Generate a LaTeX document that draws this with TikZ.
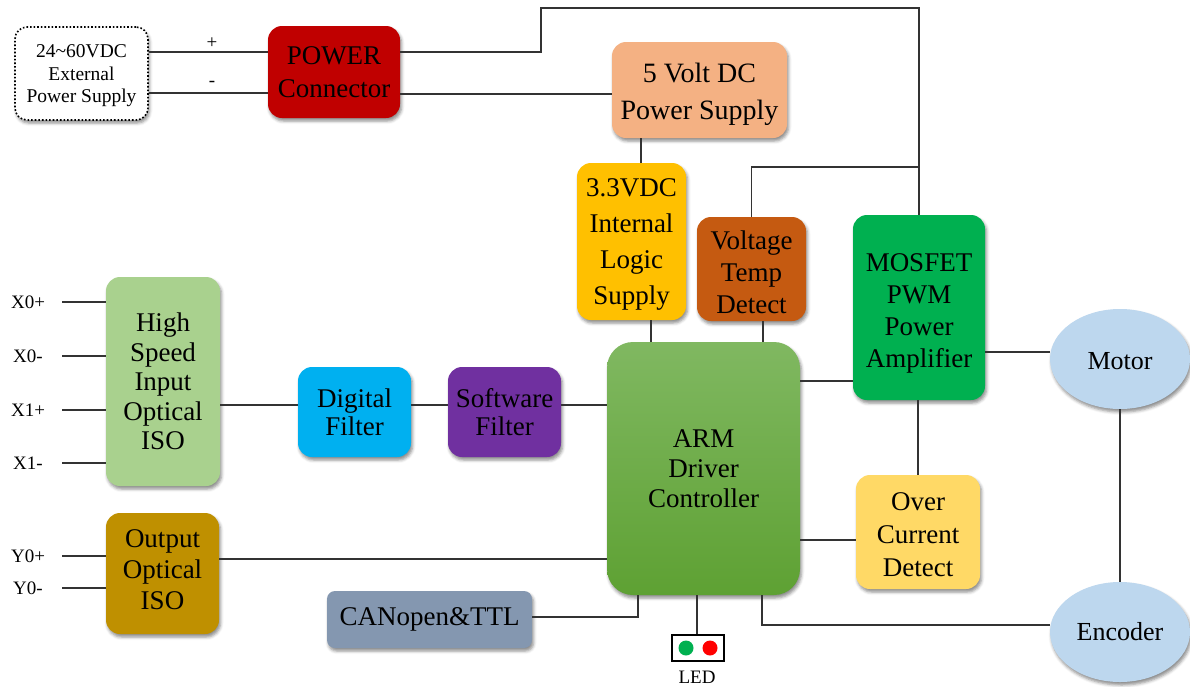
\documentclass[tikz,border=0pt]{standalone}
\usepackage{fontspec}
\setmainfont{Liberation Serif}
\usetikzlibrary{shapes.geometric,shadows.blur}
\definecolor{cPow}{HTML}{C00000}
\definecolor{cFive}{HTML}{F4B183}
\definecolor{cLogic}{HTML}{FFC000}
\definecolor{cVT}{HTML}{C55A11}
\definecolor{cMos}{HTML}{00B050}
\definecolor{cMotor}{HTML}{BDD7EE}
\definecolor{cHS}{HTML}{A9D18E}
\definecolor{cDF}{HTML}{00B0F0}
\definecolor{cSF}{HTML}{7030A0}
\definecolor{cArmTop}{HTML}{80B861}
\definecolor{cArmBot}{HTML}{5EA133}
\definecolor{cOC}{HTML}{FFD966}
\definecolor{cOut}{HTML}{BF9000}
\definecolor{cCan}{HTML}{8497B0}
\definecolor{cLine}{HTML}{333333}
\newcommand{\topstrut}[1]{\rule{0pt}{#1}}
\newcommand{\botstrut}[1]{\rule[-#1]{0pt}{#1}}
\tikzset{
  box/.style={rectangle, rounded corners=14pt, align=center, inner sep=1pt,
    font=\fontsize{27}{31}\selectfont,
    blur shadow={shadow xshift=1.5pt, shadow yshift=-3pt, shadow blur radius=3pt, shadow opacity=45}},
  oval/.style={ellipse, inner sep=0pt, align=center, fill=cMotor,
    font=\fontsize{26}{30}\selectfont,
    blur shadow={shadow xshift=1.5pt, shadow yshift=-3pt, shadow blur radius=3pt, shadow opacity=45}},
  pin/.style={font=\fontsize{19}{22}\selectfont, inner sep=0pt},
  wire/.style={draw=cLine, line width=1.3pt}
}
\begin{document}
\begin{tikzpicture}[x=1pt,y=-1pt]
\useasboundingbox (0,0) rectangle (1190,686);
% nodes
\node[box, draw=black, dotted, line width=1.6pt, fill=white, rounded corners=12pt,
  minimum width=133pt, minimum height=93pt, font=\fontsize{19.5}{22.5}\selectfont]
  (ext) at (81.5,73.5) {\topstrut{17.2pt}24\textasciitilde60VDC\\External\\Power Supply};
\node[box, fill=cPow, minimum width=132pt, minimum height=92pt, font=\fontsize{27}{33}\selectfont] (pow) at (334,72) {POWER\\Connector};
\node[box, fill=cFive, minimum width=175pt, minimum height=96pt, font=\fontsize{28}{37}\selectfont] (five) at (699.5,90) {\topstrut{29pt}5 Volt DC\\Power Supply};
\node[box, fill=cLogic, minimum width=109pt, minimum height=157pt, font=\fontsize{27}{36}\selectfont] (logic) at (631.5,241.5) {\topstrut{24.5pt}3.3VDC\\Internal\\Logic\\Supply};
\node[box, fill=cVT, minimum width=109pt, minimum height=104pt, font=\fontsize{27}{32}\selectfont] (vt) at (751.5,269) {\topstrut{24.5pt}Voltage\\Temp\\Detect};
\node[box, fill=cMos, minimum width=132pt, minimum height=185pt, font=\fontsize{27}{32}\selectfont] (mos) at (919,307.5) {\topstrut{30.5pt}MOSFET\\PWM\\Power\\Amplifier};
\node[oval, minimum width=140pt, minimum height=100pt] (motor) at (1120,359) {\topstrut{21pt}Motor};
\node[oval, minimum width=140pt, minimum height=100pt] (enc) at (1120,632) {Encoder};
\node[box, fill=cHS, minimum width=114pt, minimum height=209pt, font=\fontsize{27}{29.5}\selectfont] (hs) at (163,381.5) {High\\Speed\\Input\\Optical\\ISO};
\node[box, fill=cDF, minimum width=113pt, minimum height=90pt, font=\fontsize{27}{28}\selectfont] (df) at (354.5,412) {Digital\\Filter};
\node[box, fill=cSF, minimum width=113pt, minimum height=90pt, font=\fontsize{27}{28}\selectfont] (sf) at (504.5,412) {Software\\Filter};
\node[box, top color=cArmTop, bottom color=cArmBot, rounded corners=26pt, minimum width=193pt, minimum height=253pt, font=\fontsize{27}{30}\selectfont] (arm) at (703.5,468.5) {ARM\\Driver\\Controller};
\node[box, fill=cOC, minimum width=124pt, minimum height=114pt, font=\fontsize{27}{33}\selectfont] (oc) at (918,532) {\topstrut{22.5pt}Over\\Current\\Detect};
\node[box, fill=cOut, minimum width=113pt, minimum height=121pt, font=\fontsize{27}{31}\selectfont] (out) at (162.5,573.5) {Output\\Optical\\ISO\botstrut{8pt}};
\node[box, fill=cCan, rounded corners=8pt, minimum width=205pt, minimum height=57pt] (can) at (429.5,619.5) {CANopen\&TTL};
\node[draw=black, line width=2.5pt, fill=white, minimum width=52pt, minimum height=26pt, inner sep=0pt] (led) at (698,648) {};
\fill[cMos] (686,648) circle (7.5pt);
\fill[red] (710,648) circle (7.5pt);
\node[pin] (ledl) at (697,677) {LED};
% pin labels
\node[pin] (x0p) at (28,302) {X0+};
\node[pin] (x0m) at (28,356) {X0-};
\node[pin] (x1p) at (28,410) {X1+};
\node[pin] (x1m) at (28,463) {X1-};
\node[pin] (y0p) at (28,556) {Y0+};
\node[pin] (y0m) at (28,588) {Y0-};
\node[pin] (plus) at (212,43) {+};
\node[pin] (minus) at (212,84) {-};
% wires
\draw[wire] (ext.east |- 0,52) -- (pow.west |- 0,52);
\draw[wire] (ext.east |- 0,93) -- (pow.west |- 0,93);
\draw[wire] (pow.east |- 0,52) -| (541,8) -| (mos.north);
\draw[wire] (pow.east |- 0,94) -- (five.west |- 0,94);
\draw[wire] (five.south -| 641,0) -- (logic.north -| 641,0);
\draw[wire] (vt.north) |- (mos.north |- 0,167);
\draw[wire] (logic.south -| 651,0) -- (arm.north -| 651,0);
\draw[wire] (vt.south -| 763,0) -- (arm.north -| 763,0);
\draw[wire] (arm.east |- 0,381) -- (mos.west |- 0,381);
\draw[wire] (mos.east |- 0,352) -- (motor.west |- 0,352);
\draw[wire] (mos.south -| 918,0) -- (oc.north);
\draw[wire] (oc.west |- 0,540) -- (arm.east |- 0,540);
\draw[wire] (motor.south) -- (enc.north);
\draw[wire] (arm.south -| 762,0) |- (enc.west |- 0,625);
\draw[wire] (arm.south -| 638,0) |- (can.east |- 0,617);
\draw[wire] (arm.south -| 697,0) -- (led.north -| 697,0);
\draw[wire] (hs.east |- 0,405) -- (df.west |- 0,405);
\draw[wire] (df.east |- 0,405) -- (sf.west |- 0,405);
\draw[wire] (sf.east |- 0,405) -- (arm.west |- 0,405);
\draw[wire] (out.east |- 0,559) -- (arm.west |- 0,559);
\draw[wire] (x0p.center -| 62,0) -- (hs.west |- x0p.center);
\draw[wire] (x0m.center -| 62,0) -- (hs.west |- x0m.center);
\draw[wire] (x1p.center -| 62,0) -- (hs.west |- x1p.center);
\draw[wire] (x1m.center -| 62,0) -- (hs.west |- x1m.center);
\draw[wire] (y0p.center -| 62,0) -- (out.west |- y0p.center);
\draw[wire] (y0m.center -| 62,0) -- (out.west |- y0m.center);
\end{tikzpicture}
\end{document}
